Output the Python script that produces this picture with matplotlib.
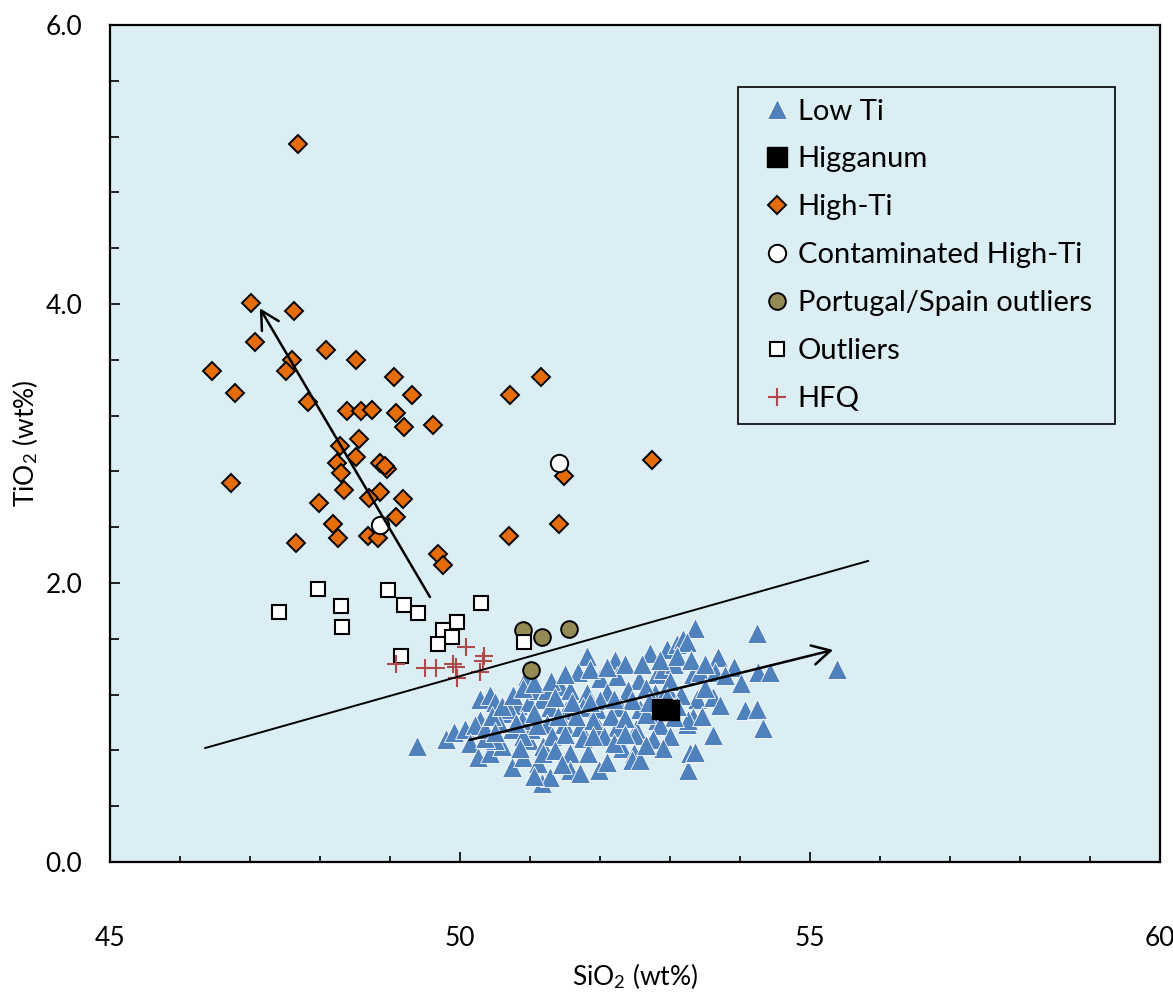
import matplotlib
matplotlib.use('Agg')
import matplotlib.pyplot as plt
from matplotlib.ticker import MultipleLocator, FixedLocator

plt.rcParams['font.family'] = ['Lato', 'DejaVu Sans']
plt.rcParams['mathtext.fontset'] = 'custom'
plt.rcParams['mathtext.rm'] = 'Lato'
plt.rcParams['mathtext.it'] = 'Lato:italic'

# ---- data ----
low_ti_x = [49.38, 49.80, 49.92, 50.07, 50.29, 50.43, 50.50, 50.29, 50.21, 50.14,
            50.26, 50.43, 50.60, 50.74, 50.90, 51.12, 51.17, 50.64, 50.83, 50.98,
            51.12, 51.17, 50.74, 50.50, 50.98, 51.02, 50.95, 51.19, 50.88, 50.36,
            51.81, 52.21, 52.71, 52.95, 53.10, 53.19, 51.69, 52.00, 52.24, 52.55,
            52.81, 52.90, 51.24, 51.43, 51.57, 51.81, 52.10, 52.40, 52.79, 51.29,
            51.52, 51.76, 51.95, 52.29, 52.57, 51.24, 51.48, 51.71, 51.98, 52.24,
            52.52, 52.81, 53.24, 51.76, 52.05, 52.50, 51.31, 51.50, 51.19, 51.36,
            51.57, 51.83, 52.31, 52.48, 51.29, 51.57, 51.71, 51.98, 52.45, 52.57,
            53.26, 53.29, 53.36, 54.24, 55.38, 53.24, 53.68, 53.92, 54.26, 54.43,
            53.33, 53.43, 53.64, 53.79, 54.02, 53.38, 53.62, 53.71, 54.07, 54.24,
            53.33, 54.33, 53.62, 53.36, 53.26, 52.65, 53.05, 52.85, 51.90, 52.15,
            52.35, 52.00, 52.45, 51.65, 51.40, 52.65, 52.95, 53.05, 53.00, 52.20,
            52.75, 51.10, 50.90, 51.05, 50.70, 50.55, 50.35,
            50.45, 50.60, 50.75, 50.90, 51.05, 51.30, 51.50, 51.85, 52.10, 52.35,
            52.60, 52.85, 53.10, 53.30, 53.50, 51.35, 51.60, 51.85, 52.20, 52.70,
            52.95, 53.15, 53.50, 53.45, 53.10, 53.00, 52.90, 52.65, 52.10, 51.45,
            50.85, 51.05, 51.90, 52.35, 50.50, 50.80]
low_ti_y = [0.83, 0.88, 0.93, 0.95, 1.17, 1.20, 1.15, 1.02, 0.98, 0.85,
            0.755, 0.78, 0.83, 0.68, 0.755, 0.71, 0.565, 1.07, 1.125, 1.15,
            1.23, 1.17, 0.95, 0.875, 0.875, 0.95, 1.33, 0.83, 1.02, 0.89,
            1.48, 1.45, 1.50, 1.53, 1.56, 1.60, 1.36, 1.32, 1.33, 1.305,
            1.35, 1.38, 1.23, 1.26, 1.23, 1.21, 1.22, 1.23, 1.21, 1.11,
            1.09, 1.11, 1.10, 1.11, 1.10, 0.99, 0.99, 0.97, 0.96, 0.97,
            0.95, 1.02, 0.99, 0.89, 0.90, 0.91, 0.90, 0.92, 0.78, 0.80,
            0.78, 0.78, 0.815, 0.78, 0.61, 0.66, 0.64, 0.66, 0.73, 0.73,
            0.66, 0.78, 1.675, 1.64, 1.38, 1.58, 1.47, 1.40, 1.36, 1.36,
            1.35, 1.36, 1.36, 1.34, 1.28, 1.17, 1.185, 1.125, 1.09, 1.095,
            1.04, 0.96, 0.91, 0.79, 1.02, 1.06, 1.04, 0.98, 1.02, 1.05,
            1.03, 1.16, 1.16, 1.05, 1.05, 1.25, 1.25, 1.42, 1.30, 0.85,
            0.88, 0.98, 0.90, 1.07, 1.10, 1.00, 0.95,
            1.05, 1.12, 1.20, 1.25, 1.28, 1.30, 1.35, 1.38, 1.40, 1.42,
            1.42, 1.45, 1.48, 1.45, 1.42, 1.18, 1.15, 1.15, 1.17, 1.15,
            1.18, 1.20, 1.25, 1.05, 1.12, 0.90, 0.82, 0.84, 0.72, 0.70,
            0.82, 0.62, 0.90, 0.92, 0.93, 1.00]

higganum_x = [52.88, 52.98]
higganum_y = [1.10, 1.09]

high_ti_x = [47.69, 47.02, 47.63, 47.07, 46.46, 46.78, 47.60, 47.51, 48.08, 48.51,
             49.06, 49.32, 47.83, 48.38, 48.59, 48.74, 49.09, 49.61, 49.20, 51.16,
             50.71, 48.29, 48.56, 48.52, 48.24, 48.30, 48.85, 48.96, 48.93, 46.73,
             48.34, 48.86, 48.70, 49.18, 47.98, 48.18, 49.09, 48.25, 48.69, 48.83,
             47.65, 50.70, 49.69, 49.76, 52.74, 51.48, 51.42]
high_ti_y = [5.15, 4.01, 3.95, 3.73, 3.52, 3.36, 3.60, 3.52, 3.67, 3.60,
             3.48, 3.35, 3.30, 3.23, 3.23, 3.24, 3.22, 3.13, 3.12, 3.48,
             3.35, 2.98, 3.03, 2.90, 2.86, 2.79, 2.86, 2.82, 2.84, 2.72,
             2.67, 2.65, 2.61, 2.60, 2.57, 2.42, 2.47, 2.32, 2.34, 2.32,
             2.29, 2.34, 2.21, 2.13, 2.88, 2.77, 2.42]

contam_x = [48.85, 51.42]
contam_y = [2.415, 2.86]

portugal_x = [50.90, 51.17, 51.55, 51.01]
portugal_y = [1.66, 1.61, 1.67, 1.376]

outlier_x = [47.97, 47.41, 48.30, 48.32, 48.97, 49.20, 49.40, 50.30, 49.95, 49.76,
             49.88, 49.69, 49.16, 50.91]
outlier_y = [1.96, 1.795, 1.835, 1.685, 1.95, 1.84, 1.785, 1.86, 1.72, 1.66,
             1.615, 1.56, 1.48, 1.575]

hfq_x = [49.09, 49.50, 49.66, 49.90, 49.94, 50.09, 50.34, 50.33, 50.29, 49.95]
hfq_y = [1.42, 1.39, 1.39, 1.42, 1.40, 1.54, 1.48, 1.44, 1.36, 1.32]

# discriminant line and trend arrows (tail -> head)
divider_x = [46.36, 55.83]
divider_y = [0.817, 2.158]
high_arrow = [(49.57, 1.90), (47.14, 3.97)]
low_arrow = [(50.14, 0.875), (55.33, 1.52)]

bg = '#DBEEF4'

fig = plt.figure(figsize=(11.73, 9.96), dpi=100)
ax = fig.add_axes([110 / 1173, 1 - 862 / 996, 1050 / 1173, 837 / 996])
ax.set_facecolor(bg)

ax.plot(low_ti_x, low_ti_y, '^', ms=14.5, color='#4F81BD', mec='white', mew=0.6,
        ls='none', label='Low Ti', zorder=3)
ax.plot(higganum_x, higganum_y, 's', ms=15, color='black', ls='none',
        label='Higganum', zorder=4)
ax.plot(high_ti_x, high_ti_y, 'D', ms=9.5, color='#E46C0A', mec='black', mew=1.4,
        ls='none', label='High-Ti', zorder=5)
ax.plot(contam_x, contam_y, 'o', ms=12.5, color='white', mec='black', mew=1.4,
        ls='none', label='Contaminated High-Ti', zorder=6)
ax.plot(portugal_x, portugal_y, 'o', ms=12, color='#948A54', mec='black', mew=1.4,
        ls='none', label='Portugal/Spain outliers', zorder=7)
ax.plot(outlier_x, outlier_y, 's', ms=10, color='white', mec='black', mew=1.5,
        ls='none', label='Outliers', zorder=8)
ax.plot(hfq_x, hfq_y, '+', ms=13, color='#B04A4A', mew=1.5,
        ls='none', label='HFQ', zorder=9)

ax.plot(divider_x, divider_y, color='black', lw=1.4, zorder=10)
for tail, head in [high_arrow, low_arrow]:
    ax.annotate('', xy=head, xytext=tail, zorder=10,
                arrowprops=dict(arrowstyle='->,head_length=0.65,head_width=0.35',
                                lw=1.8, color='black', mutation_scale=20,
                                shrinkA=0, shrinkB=0))

ax.set_xlim(45, 60)
ax.set_ylim(0, 6)
ax.xaxis.set_major_locator(MultipleLocator(5))
ax.xaxis.set_minor_locator(MultipleLocator(1))
ax.yaxis.set_major_locator(FixedLocator([0, 2, 4, 6]))
ax.yaxis.set_minor_locator(MultipleLocator(0.4))
ax.yaxis.set_major_formatter(plt.FuncFormatter(lambda v, p: f'{v:.1f}'))
ax.xaxis.set_major_formatter(plt.FuncFormatter(lambda v, p: f'{v:.0f}'))

for s in ax.spines.values():
    s.set_linewidth(1.6)
    s.set_color('black')
ax.tick_params(axis='both', which='both', direction='in', top=False, right=False,
               width=1.2, color='black', labelsize=19)
ax.tick_params(axis='y', which='major', length=7, pad=20)
ax.tick_params(axis='y', which='minor', length=6.5)
ax.tick_params(axis='x', which='major', length=7, pad=46)
ax.tick_params(axis='x', which='minor', length=4.5)

fig.text(635 / 1173, 1 - 976 / 996, 'SiO$_2$ (wt%)', ha='center', va='center', fontsize=19)
fig.text(25 / 1173, 1 - 443 / 996, 'TiO$_2$ (wt%)', ha='center', va='center',
         rotation=90, fontsize=19)

leg = ax.legend(loc='upper left', bbox_to_anchor=(0.598, 0.5, 0.359, 0.426),
                mode='expand', borderaxespad=0, fontsize=21, frameon=True,
                fancybox=False, edgecolor='black', facecolor=bg, framealpha=1,
                borderpad=0.4, labelspacing=0.75, handlelength=1.9,
                handletextpad=-0.25, numpoints=1)
leg.get_frame().set_linewidth(1.2)
leg.set_zorder(20)

fig.savefig('out.png', dpi=100)
